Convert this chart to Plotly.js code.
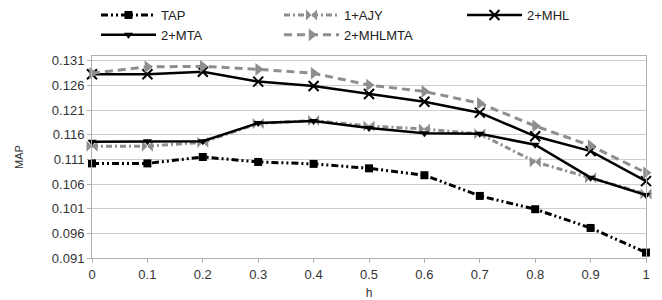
<!DOCTYPE html>
<html><head><meta charset="utf-8">
<script src="https://cdn.plot.ly/plotly-3.0.1.min.js"></script>
<style>html,body{margin:0;padding:0;background:#fff}#c{width:662px;height:300px}</style>
</head><body><div id="c"></div>
<script>
const hValues = [0, 0.1, 0.2, 0.3, 0.4, 0.5, 0.6, 0.7, 0.8, 0.9, 1];
const tickLabels = ["0","0.1","0.2","0.3","0.4","0.5","0.6","0.7","0.8","0.9","1"];
const yTicks = [0.091, 0.096, 0.101, 0.106, 0.111, 0.116, 0.121, 0.126, 0.131];
const seriesNames = ["TAP", "1+AJY", "2+MHL", "2+MTA", "2+MHLMTA"];
const TAP      = [0.1102, 0.1102, 0.1115, 0.1105, 0.1101, 0.1092, 0.1078, 0.1036, 0.1009, 0.0971, 0.0921];
const AJY      = [0.1137, 0.1137, 0.1145, 0.1183, 0.1189, 0.1178, 0.1172, 0.1162, 0.1105, 0.1073, 0.1040];
const MHL      = [0.1283, 0.1283, 0.1288, 0.1268, 0.1259, 0.1243, 0.1227, 0.1205, 0.1157, 0.1127, 0.1066];
const MTA      = [0.1146, 0.1147, 0.1147, 0.1184, 0.1188, 0.1174, 0.1163, 0.1162, 0.1140, 0.1073, 0.1038];
const MHLMTA   = [0.1285, 0.1298, 0.1299, 0.1293, 0.1285, 0.1261, 0.1248, 0.1224, 0.1178, 0.1138, 0.1083];

const black = '#000000', gray = '#8e8e8e';
const traces = [
  {y: TAP, name: seriesNames[0], line: {color: black, width: 3, dash: '7px,3px,2px,3px,2px,3px'}, marker: {symbol: 'square', size: 8, color: black}},
  {y: AJY, name: seriesNames[1], line: {color: gray, width: 3, dash: '6px,3px,2px,3px'}, marker: {symbol: 'bowtie', size: 11, color: gray}},
  {y: MHL, name: seriesNames[2], line: {color: black, width: 2.5}, marker: {symbol: 'x-thin', size: 10, color: black, line: {color: black, width: 2}}},
  {y: MTA, name: seriesNames[3], line: {color: black, width: 2.5}, marker: {symbol: 'triangle-down', size: 8, color: black}},
  {y: MHLMTA, name: seriesNames[4], line: {color: gray, width: 3, dash: '8px,5px'}, marker: {symbol: 'triangle-right', size: 11, color: gray}}
].map(t => Object.assign({x: hValues, type: 'scatter', mode: 'lines+markers', cliponaxis: false}, t));

const layout = {
  width: 662, height: 300,
  margin: {l: 92, r: 16, t: 56, b: 42, autoexpand: false},
  paper_bgcolor: '#fff', plot_bgcolor: '#fff',
  font: {family: 'Liberation Sans, Arial, sans-serif', size: 13, color: '#333'},
  showlegend: true,
  legend: {orientation: 'h', xref: 'container', yref: 'container', x: 0.145, xanchor: 'left', y: 1.0, yanchor: 'top',
           entrywidth: 113, itemwidth: 55, font: {size: 13, color: '#222'},
           tracegroupgap: 0, traceorder: 'normal', bgcolor: 'rgba(0,0,0,0)'},
  xaxis: {range: [0, 1], tickvals: hValues, ticktext: tickLabels, showgrid: false,
          zeroline: false, showline: true, linecolor: '#b0b0b0', mirror: true,
          ticks: 'outside', ticklen: 4, tickcolor: '#b0b0b0',
          tickfont: {size: 13, color: '#333'},
          title: {text: 'h', font: {size: 12, color: '#333'}, standoff: 19}},
  yaxis: {range: [0.091, 0.132], tickvals: yTicks, tickformat: '.3f',
          showgrid: true, gridcolor: '#cfcfcf', gridwidth: 1, zeroline: false,
          showline: true, linecolor: '#b0b0b0', mirror: true,
          ticks: 'outside', ticklen: 4, tickcolor: '#b0b0b0',
          tickfont: {size: 13, color: '#333'},
          title: {text: 'MAP', font: {size: 11, color: '#333'}, standoff: 26}}
};
Plotly.newPlot('c', traces, layout, {displayModeBar: false, staticPlot: true});
</script></body></html>
